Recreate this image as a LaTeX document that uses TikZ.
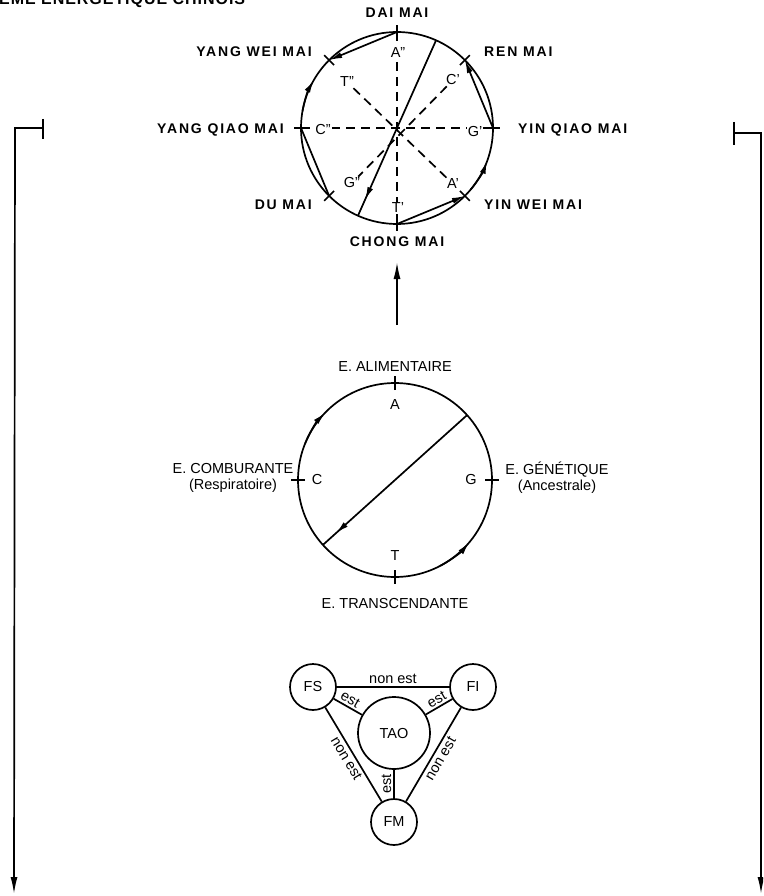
\documentclass[tikz,border=0pt]{standalone}
\usepackage{fontspec}
\setmainfont{Liberation Sans}
\newfontfamily\spacedfont[LetterSpace=13]{Liberation Sans}
\newfontfamily\titlefont[LetterSpace=6]{Liberation Sans}
\usetikzlibrary{arrows.meta,calc,decorations.markings}
\begin{document}
\begin{tikzpicture}[x=1pt,y=1pt,
  every node/.style={font=\fontsize{14.5}{16}\selectfont, inner sep=1pt},
  boldlbl/.style={font=\fontsize{14}{16}\selectfont\spacedfont\bfseries},
  lbl/.style={fill=white, inner sep=1pt},
  line/.style={line width=1.7pt},
  dashline/.style={line width=1.7pt, dash pattern=on 9pt off 6pt},
  arr/.style={-{Latex[length=17pt,width=7pt]}},
  sarr/.style={-{Latex[length=13pt,width=6pt]}},
  midarr/.style={decoration={markings, mark=at position #1 with {\arrow{Latex[length=13pt,width=6pt]}}}, postaction={decorate}},
  ring/.style={circle, draw, line width=1.7pt, inner sep=0pt},
  elbl/.style={inner sep=0.5pt}
]
\useasboundingbox (0,0) rectangle (763,-896);
\clip (0,0) rectangle (763,-896);

% title (clipped at the top)
\node[anchor=base west, inner sep=0pt, font=\fontsize{16}{18}\selectfont\titlefont\bfseries] (title) at (-1,-5) {ÈME ÉNERGÉTIQUE CHINOIS};

% ---------- top circle ----------
\coordinate (O1) at (397,-128);
\draw[line] (O1) circle (96);
\foreach \a/\n in {0/g,45/r,90/a,135/yw,180/c,225/du,270/t,315/yi} {
  \coordinate (P\n) at ($(O1)+(\a:96)$);
  \draw[line] ($(O1)+(\a:89)$) -- ($(O1)+(\a:103)$);
}
% dashed axes
\draw[dashline] (Pa) -- (Pt);
\draw[dashline] (Pc) -- (Pg);
% inner labels
\node[lbl] (A2) at (398,-53) {A''};
\node[lbl] (T2) at (347,-82) {T''};
\node[lbl] (C1) at (453,-80) {C'};
\node[lbl] (C2) at (323,-130) {C''};
\node[lbl] (G1) at (475,-132) {G'};
\node[lbl] (G2) at (352,-183) {G''};
\node[lbl] (A1) at (453,-184) {A'};
\node[lbl] (T1) at (398,-208) {T'};
\draw[dashline] (T2) -- (A1);
\draw[dashline] (C1) -- (G2);
% chords
\draw[line, sarr] (Pa) -- (Pyw);
\draw[line, sarr] (Pg) -- (Pr);
\draw[line, sarr] (Pt) -- (Pyi);
\draw[line] (Pc) -- (Pdu);
% line through the centre
\coordinate (D1) at ($(O1)+(66:96)$);
\coordinate (D2) at ($(O1)+(246:96)$);
\draw[line, midarr=0.91] (D1) -- (D2);
% arc arrows
\draw[line, sarr] ($(O1)+(170:96)$) arc (170:150:96);
\draw[line, sarr] ($(O1)+(320:96)$) arc (320:340:96);
% outer labels
\node[boldlbl] (dai) at (397,-13) {DAI MAI};
\node[boldlbl, anchor=east] (yangwei) at (313,-52) {YANG WEI MAI};
\node[boldlbl, anchor=west] (ren) at (483,-52) {REN MAI};
\node[boldlbl, anchor=east] (yangqiao) at (285,-130) {YANG QIAO MAI};
\node[boldlbl, anchor=west] (yinqiao) at (517,-130) {YIN QIAO MAI};
\node[boldlbl, anchor=east] (du) at (313,-205) {DU MAI};
\node[boldlbl, anchor=west] (yinwei) at (483,-205) {YIN WEI MAI};
\node[boldlbl] (chong) at (397,-242) {CHONG MAI};

% ---------- arrow up ----------
\coordinate (U1) at (397,-325);
\coordinate (U2) at (397,-262);
\draw[line, arr] (U1) -- (U2);

% ---------- middle circle ----------
\coordinate (O2) at (395,-480);
\draw[line] (O2) circle (97);
\foreach \a/\n in {0/g,90/a,180/c,270/t} {
  \coordinate (Q\n) at ($(O2)+(\a:97)$);
  \draw[line] ($(O2)+(\a:90)$) -- ($(O2)+(\a:104)$);
}
\node (mA) at (395,-405) {A};
\node (mC) at (317,-480) {C};
\node (mG) at (471,-480) {G};
\node (mT) at (395,-556) {T};
\coordinate (E1) at ($(O2)+(42:97)$);
\coordinate (E2) at ($(O2)+(222:97)$);
\draw[line, midarr=0.91] (E1) -- (E2);
\draw[line, sarr] ($(O2)+(158:97)$) arc (158:136:97);
\draw[line, sarr] ($(O2)+(298:97)$) arc (298:320:97);
\node (EA) at (395,-367) {E. ALIMENTAIRE};
\node[align=center] (EC) at (233,-478) {E. COMBURANTE\\(Respiratoire)};
\node[align=center] (EG) at (557,-478) {E. GÉNÉTIQUE\\(Ancestrale)};
\node (ET) at (395,-604) {E. TRANSCENDANTE};

% ---------- triangle ----------
\node[ring, minimum size=46pt] (FS) at (313,-687) {FS};
\node[ring, minimum size=46pt] (FI) at (473,-687) {FI};
\node[ring, minimum size=72pt] (TAO) at (394,-733) {TAO};
\node[ring, minimum size=46pt] (FM) at (394,-822) {FM};
\draw[line] (FS) -- node[elbl, above=2pt] {non est} (FI);
\draw[line] (FS) -- node[elbl, sloped, above=1.5pt, pos=0.45] {est} (TAO);
\draw[line] (TAO) -- node[elbl, sloped, above=1.5pt, pos=0.55] {est} (FI);
\draw[line] (FM) -- node[elbl, sloped, above=1.5pt] {est} (TAO);
\draw[line] (FS) -- node[elbl, sloped, below=2pt] {non est} (FM);
\draw[line] (FM) -- node[elbl, sloped, below=2pt] {non est} (FI);

% ---------- outer brackets ----------
\coordinate (L0) at (43,-119);
\coordinate (L1) at (43,-139);
\coordinate (L2) at (43,-128);
\coordinate (L3) at (15,-128);
\coordinate (L4) at (14,-894);
\draw[line] (L0) -- (L1);
\draw[line, arr] (L2) -- (L3) -- (L4);
\coordinate (R0) at (734,-122);
\coordinate (R1) at (734,-145);
\coordinate (R2) at (734,-133);
\coordinate (R3) at (761,-133);
\coordinate (R4) at (761,-894);
\draw[line] (R0) -- (R1);
\draw[line, arr] (R2) -- (R3) -- (R4);
\end{tikzpicture}
\end{document}
